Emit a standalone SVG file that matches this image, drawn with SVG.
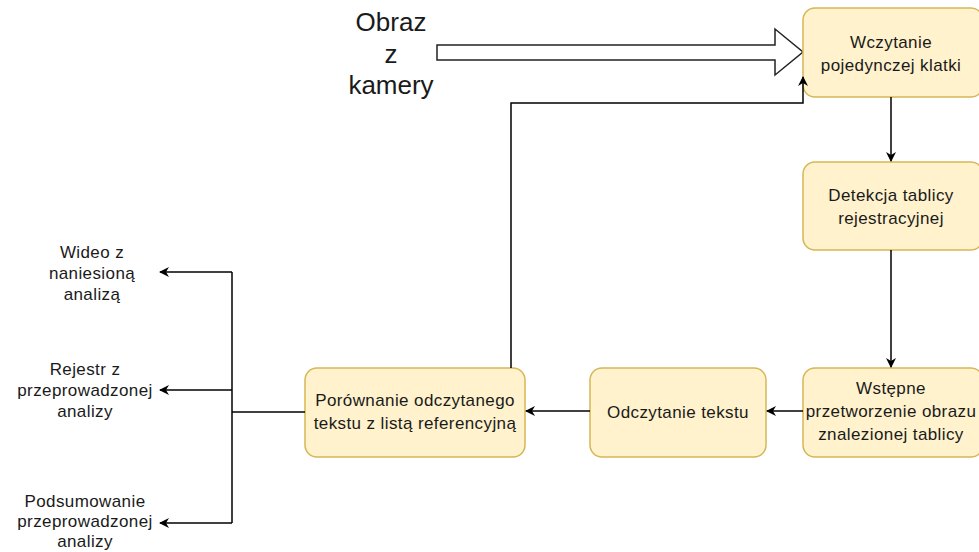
<svg xmlns="http://www.w3.org/2000/svg" width="979" height="552" viewBox="0 0 979 552">
<defs>
<style>
.node rect{fill:#fff2cc;stroke:#d6b656;stroke-width:1.5}
text{font-family:"Liberation Sans",Arial,sans-serif;fill:#1a1a1a;text-anchor:middle}
.nt,.lt{font-size:17px;letter-spacing:0.4px}
.big{font-size:26px}
.c{fill:none;stroke:#000;stroke-width:1.5}
</style>
<marker id="ah" markerWidth="10" markerHeight="10" refX="9" refY="5" orient="auto" markerUnits="userSpaceOnUse">
<path d="M0,0 L10,5 L0,10 L3,5 Z" fill="#000"/>
</marker>
</defs>
<rect width="979" height="552" fill="#fff"/>
<g id="input">
<text class="big" x="391" y="31">Obraz</text>
<text class="big" x="391" y="63">z</text>
<text class="big" x="391" y="94">kamery</text>
<path d="M437,45 H775 V29 L803,52 L775,75 V60 H437 Z" fill="#fff" stroke="#222" stroke-width="1.5"/>
</g>
<g id="n1" class="node"><rect x="803" y="8" width="180" height="89" rx="12"/><text class="nt" x="891" y="48">Wczytanie</text><text class="nt" x="891" y="71">pojedynczej klatki</text></g>
<g id="n2" class="node"><rect x="803" y="162" width="180" height="88" rx="12"/><text class="nt" x="891" y="201">Detekcja tablicy</text><text class="nt" x="891" y="224">rejestracyjnej</text></g>
<g id="n3" class="node"><rect x="803" y="368" width="180" height="89" rx="12"/><text class="nt" x="891" y="394">Wstępne</text><text class="nt" x="891" y="417">przetworzenie obrazu</text><text class="nt" x="891" y="440">znalezionej tablicy</text></g>
<g id="n4" class="node"><rect x="590" y="368" width="176" height="89" rx="12"/><text class="nt" x="678" y="418">Odczytanie tekstu</text></g>
<g id="n5" class="node"><rect x="305" y="368" width="220" height="89" rx="12"/><text class="nt" x="415" y="406">Porównanie odczytanego</text><text class="nt" x="415" y="429">tekstu z listą referencyjną</text></g>
<g id="out1"><text class="lt" x="92" y="258">Wideo z</text><text class="lt" x="92" y="279">naniesioną</text><text class="lt" x="92" y="300">analizą</text></g>
<g id="out2"><text class="lt" x="85" y="375">Rejestr z</text><text class="lt" x="85" y="396">przeprowadzonej</text><text class="lt" x="85" y="417">analizy</text></g>
<g id="out3"><text class="lt" x="85" y="507">Podsumowanie</text><text class="lt" x="85" y="527">przeprowadzonej</text><text class="lt" x="85" y="547">analizy</text></g>
<g id="connectors">
<path class="c" d="M891,97 V161" marker-end="url(#ah)"/>
<path class="c" d="M891,250 V367" marker-end="url(#ah)"/>
<path class="c" d="M803,411 H767" marker-end="url(#ah)"/>
<path class="c" d="M590,411 H526" marker-end="url(#ah)"/>
<path class="c" d="M511,368 V103 H803 V77" marker-end="url(#ah)"/>
<path class="c" d="M305,412 H232"/>
<path class="c" d="M232,272 V523"/>
<path class="c" d="M232,272 H160" marker-end="url(#ah)"/>
<path class="c" d="M232,390 H160" marker-end="url(#ah)"/>
<path class="c" d="M232,523 H160" marker-end="url(#ah)"/>
</g>
</svg>
